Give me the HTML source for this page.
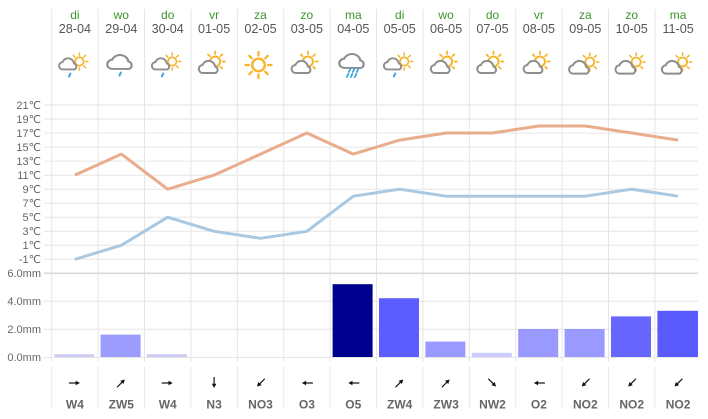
<!DOCTYPE html>
<html><head><meta charset="utf-8">
<style>
html,body{margin:0;padding:0;background:#fff;}
svg{display:block;}
text{font-family:"Liberation Sans","DejaVu Sans",sans-serif;}
</style></head>
<body>
<svg width="708" height="419" viewBox="0 0 708 419" xmlns="http://www.w3.org/2000/svg">
<defs>
  <path id="cl" d="M5 13 a4 4 0 0 1 -0.5 -8 a6.5 6.5 0 0 1 12.5 1.5 a3.5 3.5 0 0 1 0.5 6.5 Z"/>
  <g id="sunS">
    <circle r="5" fill="#fff" stroke="#f6b42a" stroke-width="2"/>
    <g stroke="#f6b42a" stroke-width="1.8" stroke-linecap="round">
      <line x1="0" y1="-7.5" x2="0" y2="-10"/><line x1="0" y1="7.5" x2="0" y2="10"/>
      <line x1="7.5" y1="0" x2="10" y2="0"/><line x1="-7.5" y1="0" x2="-10" y2="0"/>
      <line x1="5.3" y1="-5.3" x2="7.1" y2="-7.1"/><line x1="-5.3" y1="-5.3" x2="-7.1" y2="-7.1"/>
      <line x1="5.3" y1="5.3" x2="7.1" y2="7.1"/><line x1="-5.3" y1="5.3" x2="-7.1" y2="7.1"/>
    </g>
  </g>
  <g id="sunB">
    <circle r="6.3" fill="#fff" stroke="#f6b42a" stroke-width="2.4"/>
    <g stroke="#f6b42a" stroke-width="2.2" stroke-linecap="round">
      <line x1="0" y1="-9.5" x2="0" y2="-13"/><line x1="0" y1="9.5" x2="0" y2="13"/>
      <line x1="9.5" y1="0" x2="13" y2="0"/><line x1="-9.5" y1="0" x2="-13" y2="0"/>
      <line x1="6.7" y1="-6.7" x2="9.2" y2="-9.2"/><line x1="-6.7" y1="-6.7" x2="-9.2" y2="-9.2"/>
      <line x1="6.7" y1="6.7" x2="9.2" y2="9.2"/><line x1="-6.7" y1="6.7" x2="-9.2" y2="9.2"/>
    </g>
  </g>
  <g id="pc">
    <use href="#sunS" transform="translate(1,-3.5)"/>
    <use href="#cl" transform="translate(-16,-5)" fill="#fff" stroke="#8e8e8e" stroke-width="2"/>
  </g>
  <g id="pc2">
    <use href="#sunS" transform="translate(4.5,-3) scale(0.9)"/>
    <use href="#cl" transform="translate(-17,-5) scale(1.05)" fill="#fff" stroke="#8e8e8e" stroke-width="1.9"/>
  </g>
  <g id="pcd">
    <use href="#sunS" transform="translate(4.5,-3.5) scale(0.85)"/>
    <use href="#cl" transform="translate(-16.5,-7.5) scale(0.92)" fill="#fff" stroke="#8e8e8e" stroke-width="2.1"/>
    <line x1="-4.5" y1="8.5" x2="-5.8" y2="11.5" stroke="#3ba5dc" stroke-width="2" stroke-linecap="round"/>
  </g>
  <g id="arr">
    <line x1="-6" y1="0" x2="2" y2="0" stroke="#111" stroke-width="1.2"/>
    <polygon points="5,0 0.8,-2.3 0.8,2.3" fill="#111"/>
  </g>
</defs>

<!-- vertical grid lines -->
<g stroke="#e5e5e5" stroke-width="1">
  <line x1="51.7" y1="9" x2="51.7" y2="362"/>
  <line x1="98.1" y1="9" x2="98.1" y2="362"/>
  <line x1="144.5" y1="9" x2="144.5" y2="362"/>
  <line x1="190.9" y1="9" x2="190.9" y2="362"/>
  <line x1="237.3" y1="9" x2="237.3" y2="362"/>
  <line x1="283.7" y1="9" x2="283.7" y2="362"/>
  <line x1="330.1" y1="9" x2="330.1" y2="362"/>
  <line x1="376.5" y1="9" x2="376.5" y2="362"/>
  <line x1="422.9" y1="9" x2="422.9" y2="362"/>
  <line x1="469.3" y1="9" x2="469.3" y2="362"/>
  <line x1="515.7" y1="9" x2="515.7" y2="362"/>
  <line x1="562.1" y1="9" x2="562.1" y2="362"/>
  <line x1="608.5" y1="9" x2="608.5" y2="362"/>
  <line x1="654.9" y1="9" x2="654.9" y2="362"/>
</g>
<g stroke="#e8e8e8" stroke-width="1">
  <line x1="51.7" y1="367" x2="51.7" y2="409"/>
  <line x1="98.1" y1="367" x2="98.1" y2="409"/>
  <line x1="144.5" y1="367" x2="144.5" y2="409"/>
  <line x1="190.9" y1="367" x2="190.9" y2="409"/>
  <line x1="237.3" y1="367" x2="237.3" y2="409"/>
  <line x1="283.7" y1="367" x2="283.7" y2="409"/>
  <line x1="330.1" y1="367" x2="330.1" y2="409"/>
  <line x1="376.5" y1="367" x2="376.5" y2="409"/>
  <line x1="422.9" y1="367" x2="422.9" y2="409"/>
  <line x1="469.3" y1="367" x2="469.3" y2="409"/>
  <line x1="515.7" y1="367" x2="515.7" y2="409"/>
  <line x1="562.1" y1="367" x2="562.1" y2="409"/>
  <line x1="608.5" y1="367" x2="608.5" y2="409"/>
  <line x1="654.9" y1="367" x2="654.9" y2="409"/>
</g>

<!-- horizontal grid -->
<g stroke="#e6e6e6" stroke-width="1">
  <line x1="44" y1="105" x2="698" y2="105"/>
  <line x1="44" y1="119" x2="698" y2="119"/>
  <line x1="44" y1="133.1" x2="698" y2="133.1"/>
  <line x1="44" y1="147.1" x2="698" y2="147.1"/>
  <line x1="44" y1="161.1" x2="698" y2="161.1"/>
  <line x1="44" y1="175.2" x2="698" y2="175.2"/>
  <line x1="44" y1="189.2" x2="698" y2="189.2"/>
  <line x1="44" y1="203.2" x2="698" y2="203.2"/>
  <line x1="44" y1="217.2" x2="698" y2="217.2"/>
  <line x1="44" y1="231.3" x2="698" y2="231.3"/>
  <line x1="44" y1="245.3" x2="698" y2="245.3"/>
  <line x1="44" y1="259.3" x2="698" y2="259.3"/>
  <line x1="44" y1="301.3" x2="698" y2="301.3"/>
  <line x1="44" y1="329.3" x2="698" y2="329.3"/>
  <line x1="44" y1="357.5" x2="698" y2="357.5"/>
</g>
<line x1="44" y1="273.3" x2="698" y2="273.3" stroke="#dadada" stroke-width="1.6"/>

<!-- y labels -->
<g font-size="11" fill="#666" text-anchor="end">
  <text x="41" y="109">21℃</text>
  <text x="41" y="123">19℃</text>
  <text x="41" y="137">17℃</text>
  <text x="41" y="151">15℃</text>
  <text x="41" y="165">13℃</text>
  <text x="41" y="179">11℃</text>
  <text x="41" y="193">9℃</text>
  <text x="41" y="207">7℃</text>
  <text x="41" y="221">5℃</text>
  <text x="41" y="235">3℃</text>
  <text x="41" y="249">1℃</text>
  <text x="41" y="263">-1℃</text>
  <text x="41" y="277">6.0mm</text>
  <text x="41" y="305">4.0mm</text>
  <text x="41" y="333">2.0mm</text>
  <text x="41" y="361">0.0mm</text>
</g>

<!-- header -->
<g font-size="12" fill="#3b962a" text-anchor="middle">
  <text x="74.9" y="19">di</text>
  <text x="121.3" y="19">wo</text>
  <text x="167.7" y="19">do</text>
  <text x="214.1" y="19">vr</text>
  <text x="260.5" y="19">za</text>
  <text x="306.9" y="19">zo</text>
  <text x="353.3" y="19">ma</text>
  <text x="399.7" y="19">di</text>
  <text x="446.1" y="19">wo</text>
  <text x="492.5" y="19">do</text>
  <text x="538.9" y="19">vr</text>
  <text x="585.3" y="19">za</text>
  <text x="631.7" y="19">zo</text>
  <text x="678.1" y="19">ma</text>
</g>
<g font-size="12.6" fill="#555" text-anchor="middle">
  <text x="74.9" y="33">28-04</text>
  <text x="121.3" y="33">29-04</text>
  <text x="167.7" y="33">30-04</text>
  <text x="214.1" y="33">01-05</text>
  <text x="260.5" y="33">02-05</text>
  <text x="306.9" y="33">03-05</text>
  <text x="353.3" y="33">04-05</text>
  <text x="399.7" y="33">05-05</text>
  <text x="446.1" y="33">06-05</text>
  <text x="492.5" y="33">07-05</text>
  <text x="538.9" y="33">08-05</text>
  <text x="585.3" y="33">09-05</text>
  <text x="631.7" y="33">10-05</text>
  <text x="678.1" y="33">11-05</text>
</g>

<!-- icons -->
<use href="#pcd" transform="translate(74.9,65)"/>
<g transform="translate(121.3,65)">
  <use href="#cl" transform="translate(-15,-11) scale(1.3,1.15)" fill="#fff" stroke="#8e8e8e" stroke-width="1.7"/>
  <line x1="-0.5" y1="7.5" x2="-1.8" y2="10.5" stroke="#3ba5dc" stroke-width="2" stroke-linecap="round"/>
</g>
<use href="#pcd" transform="translate(167.7,65)"/>
<use href="#pc" transform="translate(214.1,65)"/>
<use href="#sunB" transform="translate(258.5,65)"/>
<use href="#pc" transform="translate(306.9,65)"/>
<g transform="translate(353.3,65)">
  <use href="#cl" transform="translate(-15,-12) scale(1.3,1.15)" fill="#fff" stroke="#8e8e8e" stroke-width="1.7"/>
  <g stroke="#3ba5dc" stroke-width="1.8" stroke-linecap="round">
    <line x1="-3" y1="4" x2="-4.5" y2="7"/>
    <line x1="1" y1="4" x2="-0.5" y2="7"/>
    <line x1="5" y1="4" x2="3.5" y2="7"/>
    <line x1="-5" y1="9" x2="-6.5" y2="12"/>
    <line x1="-1" y1="9" x2="-2.5" y2="12"/>
    <line x1="3" y1="9" x2="1.5" y2="12"/>
  </g>
</g>
<use href="#pcd" transform="translate(399.7,65)"/>
<use href="#pc" transform="translate(446.1,65)"/>
<use href="#pc" transform="translate(492.5,65)"/>
<use href="#pc" transform="translate(538.9,65)"/>
<use href="#pc2" transform="translate(585.3,65)"/>
<use href="#pc2" transform="translate(631.7,65)"/>
<use href="#pc2" transform="translate(678.1,65)"/>

<!-- temperature lines -->
<polyline fill="none" stroke="#e9ad8c" stroke-width="3" stroke-linejoin="round"
  points="74.9,175.1 121.3,154.1 167.7,189.2 214.1,175.1 260.5,154.1 306.9,133 353.3,154.1 399.7,140.1 446.1,133 492.5,133 538.9,126 585.3,126 631.7,133 678.1,140.1"/>
<polyline fill="none" stroke="#a9c8e1" stroke-width="3" stroke-linejoin="round"
  points="74.9,259.3 121.3,245.3 167.7,217.2 214.1,231.3 260.5,238.3 306.9,231.3 353.3,196.2 399.7,189.2 446.1,196.2 492.5,196.2 538.9,196.2 585.3,196.2 631.7,189.2 678.1,196.2"/>

<!-- bars -->
<rect x="54.2" y="354.2" width="40" height="2.8" fill="#ccccf5"/>
<rect x="100.6" y="334.6" width="40" height="22.4" fill="#9c9cff"/>
<rect x="147" y="354.2" width="40" height="2.8" fill="#ccccf5"/>
<rect x="332.6" y="284.2" width="40" height="72.8" fill="#00008f"/>
<rect x="379" y="298.2" width="40" height="58.8" fill="#5c5cff"/>
<rect x="425.4" y="341.6" width="40" height="15.4" fill="#9999ff"/>
<rect x="471.8" y="352.8" width="40" height="4.2" fill="#ccccff"/>
<rect x="518.2" y="329" width="40" height="28" fill="#9999ff"/>
<rect x="564.6" y="329" width="40" height="28" fill="#9999ff"/>
<rect x="611" y="316.4" width="40" height="40.6" fill="#6666ff"/>
<rect x="657.4" y="310.8" width="40.6" height="46.2" fill="#5a5aff"/>

<!-- wind arrows -->
<use href="#arr" transform="translate(74.9,383)"/>
<use href="#arr" transform="translate(121.3,383) rotate(-45)"/>
<use href="#arr" transform="translate(167.7,383)"/>
<use href="#arr" transform="translate(214.1,383) rotate(90)"/>
<use href="#arr" transform="translate(260.5,383) rotate(135)"/>
<use href="#arr" transform="translate(306.9,383) rotate(180)"/>
<use href="#arr" transform="translate(353.3,383) rotate(180)"/>
<use href="#arr" transform="translate(399.7,383) rotate(-45)"/>
<use href="#arr" transform="translate(446.1,383) rotate(-45)"/>
<use href="#arr" transform="translate(492.5,383) rotate(45)"/>
<use href="#arr" transform="translate(538.9,383) rotate(180)"/>
<use href="#arr" transform="translate(585.3,383) rotate(135)"/>
<use href="#arr" transform="translate(631.7,383) rotate(135)"/>
<use href="#arr" transform="translate(678.1,383) rotate(135)"/>

<!-- wind labels -->
<g font-size="12" font-weight="bold" fill="#666" text-anchor="middle">
  <text x="74.9" y="408.5">W4</text>
  <text x="121.3" y="408.5">ZW5</text>
  <text x="167.7" y="408.5">W4</text>
  <text x="214.1" y="408.5">N3</text>
  <text x="260.5" y="408.5">NO3</text>
  <text x="306.9" y="408.5">O3</text>
  <text x="353.3" y="408.5">O5</text>
  <text x="399.7" y="408.5">ZW4</text>
  <text x="446.1" y="408.5">ZW3</text>
  <text x="492.5" y="408.5">NW2</text>
  <text x="538.9" y="408.5">O2</text>
  <text x="585.3" y="408.5">NO2</text>
  <text x="631.7" y="408.5">NO2</text>
  <text x="678.1" y="408.5">NO2</text>
</g>
</svg>
</body></html>
